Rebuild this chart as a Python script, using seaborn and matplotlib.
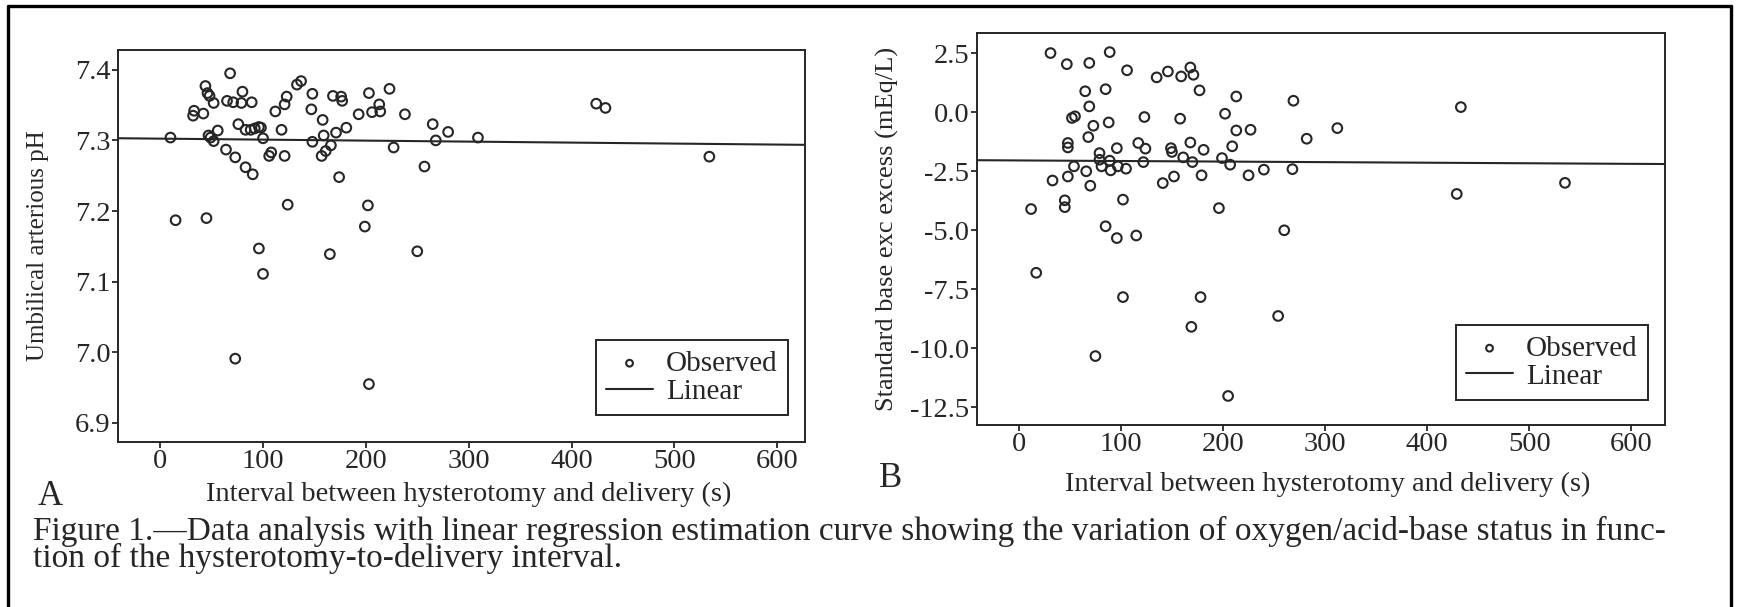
import numpy as np
import pandas as pd
import matplotlib
matplotlib.use("Agg")
import matplotlib.pyplot as plt
from matplotlib.lines import Line2D
import seaborn as sns

# ---------------- data ----------------
ph_interval = [10, 15, 32, 33, 42, 44, 46, 48, 52, 45, 47, 49, 52, 56, 64, 68, 65, 71, 73, 76,
               79, 80, 83, 83, 89, 90, 88, 92, 96, 98, 100, 96, 100, 108, 106, 112, 118, 121, 121, 123,
               124, 133, 137, 147, 148, 148, 158, 159, 157, 161, 166, 168, 171, 176, 177, 181, 174, 165,
               193, 203, 206, 213, 214, 202, 199, 223, 227, 238, 250, 257, 265, 268, 280, 309, 424, 433,
               534, 73, 203]
ph_value = [7.304, 7.187, 7.335, 7.342, 7.338, 7.377, 7.367, 7.363, 7.353, 7.190, 7.307, 7.304, 7.299,
            7.314, 7.287, 7.395, 7.356, 7.354, 7.276, 7.323, 7.353, 7.369, 7.315, 7.262, 7.354, 7.252,
            7.315, 7.317, 7.319, 7.318, 7.303, 7.147, 7.111, 7.283, 7.278, 7.341, 7.315, 7.278, 7.351,
            7.362, 7.209, 7.379, 7.384, 7.344, 7.366, 7.298, 7.329, 7.307, 7.278, 7.285, 7.293, 7.363,
            7.311, 7.362, 7.356, 7.318, 7.248, 7.139, 7.337, 7.367, 7.340, 7.351, 7.341, 7.208, 7.178,
            7.373, 7.290, 7.337, 7.143, 7.263, 7.323, 7.300, 7.312, 7.304, 7.352, 7.346, 7.277, 6.991,
            6.955]

be_interval = [31, 47, 69, 89, 106, 135, 146, 159, 168, 171, 177, 213, 269, 65, 85, 69, 52, 55, 73, 88,
               123, 158, 202, 213, 227, 68, 48, 48, 79, 96, 117, 124, 149, 150, 168, 181, 209, 79, 89, 81,
               90, 97, 105, 122, 161, 170, 199, 207, 54, 66, 48, 33, 70, 152, 141, 179, 225, 240, 268, 282,
               12, 45, 45, 102, 196, 85, 96, 115, 260, 312, 433, 429, 535, 17, 102, 178, 169, 254, 75, 205]
be_value = [2.50, 2.03, 2.08, 2.54, 1.77, 1.47, 1.72, 1.51, 1.89, 1.58, 0.92, 0.66, 0.48, 0.88, 0.97,
            0.24, -0.25, -0.18, -0.58, -0.44, -0.21, -0.28, -0.07, -0.78, -0.75, -1.06, -1.31, -1.50,
            -1.74, -1.53, -1.31, -1.55, -1.53, -1.69, -1.29, -1.60, -1.45, -2.02, -2.06, -2.30, -2.47,
            -2.30, -2.40, -2.12, -1.92, -2.12, -1.95, -2.23, -2.30, -2.51, -2.73, -2.90, -3.12, -2.73,
            -3.01, -2.68, -2.68, -2.44, -2.42, -1.13, -4.11, -3.74, -4.03, -3.71, -4.07, -4.84, -5.34,
            -5.23, -5.01, -0.68, 0.21, -3.47, -3.00, -6.81, -7.84, -7.84, -9.10, -8.64, -10.34, -12.03]

# linear regression estimates (intercept, slope) as drawn in the figure
ph_fit = (7.3025, -1.4e-5)
be_fit = (-2.05, -2.4e-4)

x_ticks = [0, 100, 200, 300, 400, 500, 600]
ph_ticks = [6.9, 7.0, 7.1, 7.2, 7.3, 7.4]
be_ticks = [-12.5, -10.0, -7.5, -5.0, -2.5, 0.0, 2.5]

x_label = "Interval between hysterotomy and delivery (s)"
ph_label = "Umbilical arterious pH"
be_label = "Standard base exc excess (mEq/L)"
caption = ("Figure 1.\u2014Data analysis with linear regression estimation curve showing the "
           "variation of oxygen/acid-base status in func-\n"
           "tion of the hysterotomy-to-delivery interval.")

# ---------------- style ----------------
sns.set_style("ticks")
INK = "#262626"
plt.rcParams["font.family"] = ["Liberation Serif", "DejaVu Serif"]
plt.rcParams["axes.unicode_minus"] = False
plt.rcParams["axes.edgecolor"] = INK
plt.rcParams["axes.linewidth"] = 1.4
plt.rcParams["xtick.color"] = INK
plt.rcParams["ytick.color"] = INK
plt.rcParams["text.color"] = INK

W, H = 1739, 607
fig = plt.figure(figsize=(W / 100, H / 100), dpi=100)
fig.patch.set_facecolor("white")


def panel(rect, xs, ys, fit, xlim, ylim, yticks, ylabel, ylab_size, ylab_x, xlab_y, leg_anchor, fmt):
    ax = fig.add_axes(rect)
    df = pd.DataFrame({"x": xs, "y": ys})
    sns.scatterplot(data=df, x="x", y="y", ax=ax, marker="o", s=48,
                    facecolor="none", edgecolor=INK, linewidth=1.5, label="Observed")
    lx = np.array(xlim)
    ly = fit[0] + fit[1] * lx
    sns.lineplot(x=lx, y=ly, ax=ax, color=INK, linewidth=1.5, label="Linear")
    ax.set_xlim(*xlim)
    ax.set_ylim(*ylim)
    ax.set_xticks(x_ticks)
    ax.set_yticks(yticks)
    ax.set_yticklabels([fmt % v for v in yticks])
    ax.tick_params(axis="both", direction="out", length=4, width=1.3, labelsize=20.5)
    ax.tick_params(axis="y", pad=1.5)
    ax.tick_params(axis="x", pad=1.0)
    for s in ax.spines.values():
        s.set_visible(True)
        s.set_linewidth(1.4)
    ax.set_xlabel(x_label, fontsize=20.5)
    ax.xaxis.set_label_coords(0.51, xlab_y)
    ax.xaxis.label.set_va("top")
    ax.set_ylabel(ylabel, fontsize=ylab_size)
    ax.yaxis.set_label_coords(ylab_x, 0.5)
    leg = ax.legend(loc="lower right", bbox_to_anchor=leg_anchor, borderaxespad=0,
                    fontsize=21, frameon=True, fancybox=False, framealpha=1,
                    edgecolor=INK, markerscale=0.7, handlelength=1.6,
                    handletextpad=0.45, labelspacing=0.05, borderpad=0.35)
    leg.get_frame().set_linewidth(1.4)
    ax.set_facecolor("white")
    return ax


ax1 = panel([118 / W, 1 - 442 / H, 687 / W, 392 / H], ph_interval, ph_value, ph_fit,
            (-41, 627), (6.873, 7.428), ph_ticks, ph_label, 18, -0.100, -0.102,
            (0.975, 0.069), "%.1f")
ax2 = panel([977 / W, 1 - 425 / H, 688 / W, 392 / H], be_interval, be_value, be_fit,
            (-41, 633), (-13.26, 3.35), be_ticks, be_label, 19, -0.113, -0.120,
            (0.975, 0.064), "%.1f")

# panel letters
fig.text(50 / W, 1 - 505 / H, "A", fontsize=25, ha="center", va="baseline")
fig.text(891 / W, 1 - 487 / H, "B", fontsize=25, ha="center", va="baseline")

# caption
fig.text(33 / W, 1 - 516 / H, caption, fontsize=24, ha="left", va="top",
         linespacing=0.82)

# scan frame (top, left, right)
fy = 1 - 6 / H
for xs_, ys_ in [([8 / W, 8 / W], [0, fy]), ([8 / W, 1731 / W], [fy, fy]),
                 ([1731 / W, 1731 / W], [fy, 0])]:
    fig.add_artist(Line2D(xs_, ys_, color="black", linewidth=2.4, transform=fig.transFigure))

fig.savefig("out.png", dpi=100, facecolor="white")
